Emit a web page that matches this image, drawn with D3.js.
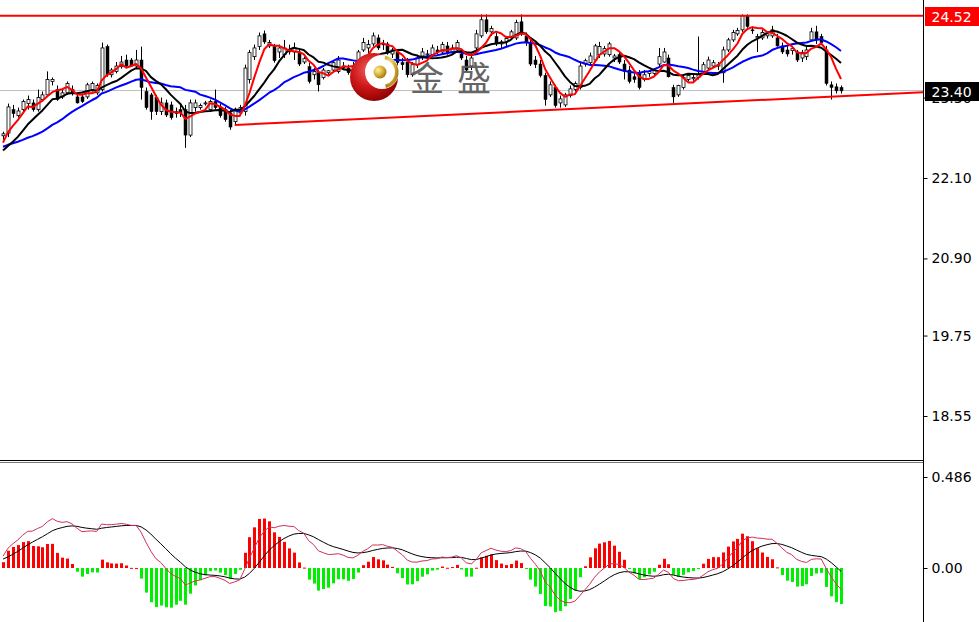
<!DOCTYPE html>
<html><head><meta charset="utf-8">
<script src="https://cdn.jsdelivr.net/npm/d3@7"></script>
<style>body{margin:0;background:#fff}svg{display:block}</style>
</head><body>
<svg id="c" width="979" height="622"></svg>
<script>
// ---- data ----
const opens=[22.73,22.77,23.12,23.03,23.12,23.21,23.22,23.12,23.27,23.34,23.54,23.42,23.31,23.37,23.42,23.31,23.31,23.31,23.42,23.37,
23.42,24.06,23.64,23.69,23.76,23.86,23.86,23.77,23.86,23.39,23.34,23.30,23.09,23.22,23.19,23.09,23.12,23.12,22.74,23.15,
23.15,23.21,23.12,23.24,23.16,23.12,23.07,22.94,23.07,23.09,23.57,23.91,24.06,24.25,24.07,24.06,23.98,23.94,24.01,23.98,
23.98,23.83,23.76,23.64,23.67,23.60,23.67,23.71,23.69,23.77,23.74,23.74,23.83,24.01,24.04,24.10,24.19,24.10,24.10,23.95,
23.98,23.82,23.83,23.64,23.79,23.92,23.94,23.94,24.01,23.98,24.07,23.98,24.01,23.95,23.86,23.77,24.04,24.22,24.46,24.28,
24.21,24.10,24.13,24.21,24.19,24.43,24.22,24.12,23.86,23.80,23.63,23.34,23.45,23.22,23.19,23.33,23.42,23.45,23.80,23.82,
23.86,23.94,23.95,23.94,23.89,23.94,23.80,23.71,23.61,23.66,23.57,23.66,23.66,23.80,23.83,23.89,23.45,23.34,23.45,23.57,
23.58,23.60,23.69,23.74,23.77,23.77,23.67,24.01,24.16,24.25,24.31,24.52,24.31,24.19,24.19,24.22,24.22,24.19,24.07,24.01,
24.00,23.98,23.89,23.91,24.16,24.28,24.21,24.01,23.49,23.46,23.45];
const highs=[22.79,23.21,23.19,23.15,23.27,23.33,23.27,23.42,23.39,23.69,23.60,23.48,23.42,23.54,23.48,23.34,23.36,23.52,23.54,23.51,
24.12,24.09,23.74,23.83,23.92,23.94,23.89,24.01,24.06,23.45,23.37,23.34,23.30,23.27,23.24,23.15,23.19,23.19,23.27,23.27,
23.21,23.25,23.27,23.42,23.21,23.16,23.12,23.15,23.19,23.79,24.01,24.09,24.27,24.30,24.16,24.10,24.09,24.16,24.09,24.12,
24.04,23.91,23.82,23.74,23.71,23.74,23.71,23.86,23.92,23.83,23.79,23.83,24.01,24.19,24.16,24.27,24.24,24.16,24.13,24.04,
24.01,23.89,23.89,23.83,23.94,24.04,24.01,24.09,24.07,24.13,24.13,24.09,24.16,23.98,23.92,23.94,24.31,24.54,24.54,24.37,
24.27,24.16,24.22,24.31,24.46,24.54,24.27,24.16,23.92,23.86,23.67,23.54,23.49,23.33,23.37,23.48,23.54,23.82,23.88,23.97,
24.10,24.13,24.07,24.13,23.95,23.98,23.86,23.77,23.66,23.71,23.71,23.71,23.74,24.04,24.04,23.94,23.49,23.49,23.63,23.66,
23.64,24.21,23.83,23.91,23.86,23.83,24.06,24.19,24.31,24.34,24.54,24.54,24.36,24.25,24.31,24.28,24.37,24.25,24.12,24.07,
24.06,24.01,24.01,24.06,24.34,24.37,24.25,24.07,23.54,23.51,23.48];
const lows=[22.67,22.71,23.00,23.00,23.09,23.12,23.09,23.09,23.24,23.31,23.48,23.25,23.28,23.34,23.33,23.21,23.22,23.28,23.39,23.34,
23.39,23.61,23.60,23.66,23.73,23.76,23.76,23.74,23.27,23.12,22.97,23.04,23.04,23.01,22.97,23.00,23.01,22.55,22.71,23.09,
23.12,23.18,23.09,23.12,23.00,22.94,22.82,22.88,23.03,23.03,23.51,23.86,24.01,24.10,24.04,23.82,23.89,23.89,23.94,23.86,
23.77,23.80,23.51,23.57,23.39,23.57,23.64,23.69,23.66,23.71,23.64,23.69,23.79,23.98,23.94,24.06,24.01,24.01,23.94,23.89,
23.77,23.71,23.60,23.61,23.74,23.86,23.89,23.91,23.94,23.95,23.94,23.94,23.98,23.86,23.69,23.71,24.01,24.19,24.25,24.22,
24.07,24.04,24.07,24.16,24.16,24.22,24.07,23.77,23.74,23.60,23.18,23.31,23.15,23.15,23.16,23.30,23.39,23.42,23.76,23.79,
23.83,23.89,23.91,23.91,23.83,23.80,23.57,23.51,23.52,23.42,23.54,23.61,23.63,23.77,23.82,23.60,23.22,23.31,23.42,23.54,
23.55,23.57,23.66,23.71,23.74,23.71,23.52,23.98,24.13,24.22,24.28,24.34,24.25,23.98,24.16,24.18,24.19,24.06,23.95,23.91,
23.94,23.83,23.83,23.86,24.13,24.10,24.09,23.48,23.27,23.36,23.36];
const closes=[22.76,23.16,23.06,23.10,23.24,23.27,23.12,23.30,23.34,23.57,23.57,23.27,23.37,23.51,23.36,23.22,23.24,23.49,23.51,23.48,
24.04,23.64,23.71,23.77,23.83,23.77,23.77,23.86,23.45,23.15,23.09,23.09,23.22,23.04,23.00,23.06,23.07,22.74,23.22,23.22,
23.18,23.22,23.24,23.15,23.03,22.97,22.86,23.12,23.15,23.74,23.97,24.04,24.22,24.13,24.12,23.85,24.04,24.04,23.98,24.04,
23.80,23.88,23.54,23.69,23.49,23.71,23.70,23.82,23.86,23.74,23.67,23.77,23.98,24.12,24.09,24.22,24.04,24.09,23.97,24.01,
23.82,23.79,23.64,23.79,23.89,23.98,23.95,24.04,23.98,24.09,23.97,24.04,24.12,23.89,23.71,23.89,24.25,24.46,24.28,24.33,
24.10,24.13,24.18,24.28,24.42,24.25,24.12,23.80,23.79,23.63,23.27,23.49,23.18,23.28,23.34,23.43,23.51,23.77,23.85,23.92,
24.07,24.06,24.03,24.10,23.92,23.83,23.69,23.54,23.57,23.45,23.64,23.69,23.70,23.91,23.98,23.61,23.31,23.48,23.60,23.63,
23.60,23.64,23.79,23.86,23.82,23.79,24.01,24.16,24.27,24.30,24.52,24.36,24.30,24.21,24.27,24.25,24.31,24.07,23.98,23.95,
24.03,23.86,23.97,24.01,24.28,24.16,24.12,23.51,23.45,23.40,23.40];
// closes before the first visible bar, estimated from where the averages start
const priorCloses=[22.19,22.22,22.25,22.30,22.33,22.37,22.40,22.45,22.49,22.52,22.55,22.58,22.61,22.64,22.67,22.65,22.62,22.67,22.64,22.59,
22.55,22.49,22.43,22.37,22.33,22.34,22.40,22.58,22.67,22.73];
const priceTicks=[23.30,22.10,20.90,19.75,18.55];
const macdTicks=[0.486,0.00];
const resistance=24.52, lastPrice=23.40;
const trendStart={bar:47,price:22.89}, trendEnd={bar:170,price:23.32};
const maPeriods=[20,10,5];
const maColors=["#0000ff","#000000","#ff0000"];

// ---- layout ----
const svg=d3.select("#c");
const axisX=923, mainBottom=460, macdTop=463;
const n=closes.length;
const x=d3.scaleLinear().domain([0,n-1]).range([3,841]);
const y=d3.scaleLinear().domain([22.10,18.55]).range([178,416]);
const ym=d3.scaleLinear().domain([0,0.486]).range([568,477]);

svg.append("defs").html(`
<clipPath id="mainClip"><rect x="0" y="0" width="${axisX}" height="${mainBottom}"/></clipPath>
<clipPath id="macdClip"><rect x="0" y="${macdTop}" width="${axisX}" height="${622-macdTop}"/></clipPath>
<radialGradient id="ball" cx="40%" cy="35%" r="70%"><stop offset="0" stop-color="#f06060"/><stop offset="0.5" stop-color="#d01818"/><stop offset="1" stop-color="#8a0000"/></radialGradient>
<radialGradient id="gold" cx="35%" cy="35%" r="70%"><stop offset="0" stop-color="#fff2a0"/><stop offset="0.6" stop-color="#d4aa30"/><stop offset="1" stop-color="#9a7410"/></radialGradient>`);

const main=svg.append("g").attr("clip-path","url(#mainClip)");

// current price line
main.append("line").attr("x1",0).attr("x2",axisX).attr("y1",Math.round(y(lastPrice))-0.5).attr("y2",Math.round(y(lastPrice))-0.5)
  .attr("stroke","#c0c0c0").attr("stroke-width",1);

// candles
const cg=main.append("g");
d3.range(n).forEach(i=>{
  const cx=Math.round(x(i))+0.5;
  cg.append("line").attr("x1",cx).attr("x2",cx).attr("y1",y(highs[i])).attr("y2",y(lows[i])).attr("stroke","#000").attr("stroke-width",1);
  const bull=closes[i]>=opens[i];
  const top=y(Math.max(opens[i],closes[i])), bot=y(Math.min(opens[i],closes[i]));
  cg.append("rect").attr("x",cx-1.5).attr("y",top).attr("width",3).attr("height",Math.max(1,bot-top))
    .attr("fill",bull?"#fff":"#000").attr("stroke","#000").attr("stroke-width",bull?0.8:0.5);
});

// moving averages
const all=priorCloses.concat(closes), off=priorCloses.length;
maPeriods.forEach((p,k)=>{
  const vals=d3.range(n).map(i=>{const e=i+off;return d3.mean(all.slice(Math.max(0,e-p+1),e+1));});
  main.append("path").datum(vals).attr("fill","none").attr("stroke",maColors[k]).attr("stroke-width",2)
    .attr("stroke-linejoin","round").attr("d",d3.line().x((d,i)=>x(i)).y(d=>y(d)));
});

// resistance and trend lines
main.append("line").attr("x1",0).attr("x2",axisX).attr("y1",y(resistance)).attr("y2",y(resistance)).attr("stroke","#ff0000").attr("stroke-width",2);
const slope=(trendEnd.price-trendStart.price)/(trendEnd.bar-trendStart.bar);
const barAtAxis=x.invert(axisX);
main.append("line").attr("x1",x(trendStart.bar)).attr("y1",y(trendStart.price))
  .attr("x2",axisX).attr("y2",y(trendStart.price+slope*(barAtAxis-trendStart.bar)))
  .attr("stroke","#ff0000").attr("stroke-width",2);

// watermark logo
const logo=svg.append("g");
logo.append("circle").attr("cx",374).attr("cy",77).attr("r",24).attr("fill","url(#ball)");
logo.append("circle").attr("cx",382).attr("cy",72).attr("r",17).attr("fill","#fff");
logo.append("path").attr("d",d3.arc()({innerRadius:13,outerRadius:16.5,startAngle:0.2,endAngle:2.9})).attr("transform","translate(382,72)").attr("fill","url(#gold)");
logo.append("circle").attr("cx",380).attr("cy",72).attr("r",6.5).attr("fill","url(#gold)");
logo.append("text").attr("x",427).attr("y",91).attr("text-anchor","middle").attr("font-family","Noto Sans CJK SC").attr("font-size",34).attr("fill","#555").attr("opacity",0.9).text("金");
logo.append("text").attr("x",474).attr("y",91).attr("text-anchor","middle").attr("font-family","Noto Sans CJK SC").attr("font-size",34).attr("fill","#555").attr("opacity",0.9).text("盛");

// ---- MACD (12,26,9) ----
function ema(arr,p){const a=2/(p+1);const out=[];arr.forEach((v,i)=>out.push(i?a*v+(1-a)*out[i-1]:v));return out;}
const e12=ema(all,12), e26=ema(all,26);
const difAll=e12.map((v,i)=>v-e26[i]);
const deaAll=ema(difAll,9);
const dif=difAll.slice(off), dea=deaAll.slice(off);
const hist=dif.map((v,i)=>2*(v-dea[i]));
const mg=svg.append("g").attr("clip-path","url(#macdClip)");
hist.forEach((h,i)=>{
  const cx=Math.round(x(i))+0.5;
  const y0=ym(0), y1=ym(h);
  mg.append("rect").attr("x",cx-1.5).attr("width",3)
    .attr("y",Math.min(y0,y1)).attr("height",Math.max(1,Math.abs(y1-y0)))
    .attr("fill",h>=0?"#ff0000":"#00ee00");
});
mg.append("path").datum(dea).attr("fill","none").attr("stroke","#000").attr("stroke-width",1).attr("d",d3.line().x((d,i)=>x(i)).y(d=>ym(d)));
mg.append("path").datum(dif).attr("fill","none").attr("stroke","#d03058").attr("stroke-width",1).attr("d",d3.line().x((d,i)=>x(i)).y(d=>ym(d)));

// ---- frame & axes ----
svg.append("line").attr("x1",0).attr("x2",axisX+1).attr("y1",mainBottom+0.5).attr("y2",mainBottom+0.5).attr("stroke","#000");
svg.append("line").attr("x1",0).attr("x2",axisX+1).attr("y1",macdTop-0.5).attr("y2",macdTop-0.5).attr("stroke","#777");
svg.append("line").attr("x1",axisX+0.5).attr("x2",axisX+0.5).attr("y1",0).attr("y2",622).attr("stroke","#000");

const fmt2=d3.format(".2f");
const ax=svg.append("g").attr("transform",`translate(${axisX+0.5},0)`)
  .call(d3.axisRight(y).tickValues(priceTicks).tickSize(4).tickPadding(4).tickFormat(fmt2));
const axm=svg.append("g").attr("transform",`translate(${axisX+0.5},0)`)
  .call(d3.axisRight(ym).tickValues(macdTicks).tickSize(4).tickPadding(4).tickFormat(d=>d===0?"0.00":d3.format(".3f")(d)));
[ax,axm].forEach(g=>{g.select(".domain").remove();
  g.selectAll("text").attr("font-family","DejaVu Sans, Verdana, sans-serif").attr("font-size",14).attr("fill","#000");
  g.selectAll("line").attr("stroke","#000");});

// price labels
function priceTag(val,color){
  const cy=Math.round(y(val))+1;
  svg.append("rect").attr("x",axisX+2).attr("y",cy-10).attr("width",979-axisX-2).attr("height",19).attr("fill",color);
  svg.append("text").attr("x",axisX+8.5).attr("y",cy).attr("dy","0.35em").attr("font-family","DejaVu Sans, Verdana, sans-serif")
    .attr("font-size",14).attr("fill","#fff").text(fmt2(val));
}
priceTag(resistance,"#ff0000");
priceTag(lastPrice,"#000000");
</script>
</body></html>
